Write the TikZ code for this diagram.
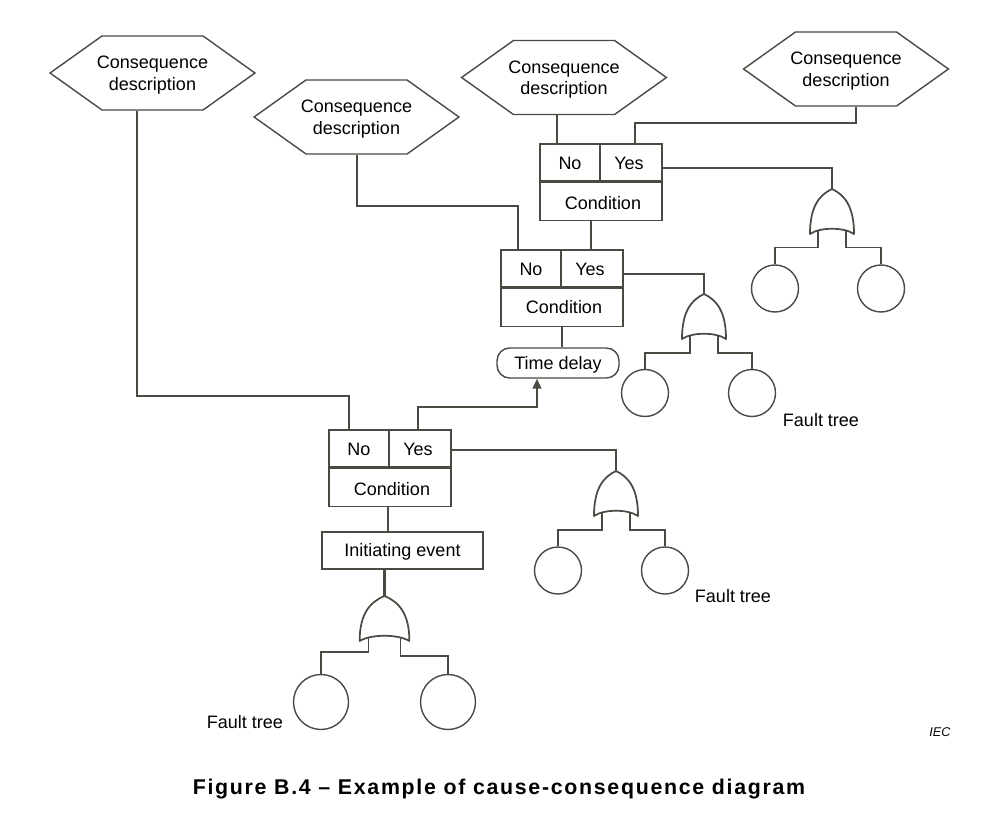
\documentclass[tikz,border=0pt]{standalone}
\usepackage{fontspec}
\setmainfont{Liberation Sans}
\newfontfamily\titlefont[LetterSpace=8]{Liberation Sans}
\usetikzlibrary{shapes.symbols,arrows.meta}
\definecolor{ln}{HTML}{4A4A42}
\newcommand{\hextext}{\rule{0pt}{12.5pt}Consequence\\description}
\tikzset{
  wire/.style={draw=ln,line width=1.05pt},
  heavy/.style={draw=ln,line width=1.6pt},
  divider/.style={draw=ln,line width=2pt},
  lbl/.style={text=black,font=\fontsize{13.5}{16.2}\selectfont,inner sep=0pt},
  boxed/.style={lbl,draw=ln,line width=1.05pt,fill=white,text height=9.7pt,text depth=0pt,
    minimum width=#1*.75pt},
  hexa/.style={lbl,inner xsep=-3.75pt,draw=ln,line width=1.05pt,align=center,signal,signal to=east and west,
    signal pointer angle=71,minimum width=195*.75pt,minimum height=74*.75pt},
  ball/.style={circle,draw=ln,line width=1.05pt,inner sep=0pt,minimum size=#1*.75pt},
  orgate/.pic={
    \draw[draw=ln,line width=1.3pt,line join=round] (0,0) .. controls (13,6) and (22,18) .. (22,45)
      .. controls (12,38) and (-12,38) .. (-22,45)
      .. controls (-22,18) and (-13,6) .. (0,0) -- cycle;
    \coordinate (-apex) at (0,0);
    \coordinate (-legl) at (-14,40.5);
    \coordinate (-legr) at (14,40.5);
  }
}
\begin{document}
\begin{tikzpicture}[x=.75pt,y=-.75pt]
\useasboundingbox (0,0) rectangle (992,831);
% consequence hexagons
\node[hexa] (h1) at (152.5,73) {\hextext};
\node[hexa] (h2) at (356.5,117) {\hextext};
\node[hexa] (h3) at (564,77.5) {\hextext};
\node[hexa] (h4) at (846,69) {\hextext};
% condition boxes
\foreach \n/\x/\y/\th in {1/540/144/11.95pt,2/501/250/9.7pt,3/329/430/11.95pt}{
  \node[boxed=60,minimum height=38*.75pt] (b\n no) at (\x+30,\y+19) {No};
  \node[boxed=62,minimum height=38*.75pt] (b\n yes) at (\x+91,\y+19) {Yes\kern3pt};
  \node[boxed=122,minimum height=38.5*.75pt,text height=\th] (b\n cond) at (\x+61,\y+57.5) {\kern3pt Condition};
  \draw[divider] (b\n cond.north west) -- (b\n cond.north east);
}
\node[boxed=161,minimum height=37*.75pt] (init) at (402.5,550.5) {Initiating event};
\node[boxed=122,minimum height=30*.75pt,rounded corners=9.5pt] (delay) at (558,363) {Time delay};
% gates
\pic (g1) at (832,189) {orgate};
\pic (g2) at (704,294) {orgate};
\pic (g3) at (616,471) {orgate};
\pic[xscale=1.13] (g4) at (384.5,596) {orgate};
% primary events
\node[ball=47] (c1l) at (775,288.5) {};
\node[ball=47] (c1r) at (881,288.5) {};
\node[ball=47] (c2l) at (645,393) {};
\node[ball=47] (c2r) at (752,393) {};
\node[ball=47] (c3l) at (558,570.5) {};
\node[ball=47] (c3r) at (665,570.5) {};
\node[ball=55] (c4l) at (321,702) {};
\node[ball=55] (c4r) at (448,702) {};
% connectors: hexagons to boxes
\draw[wire] (h1.south -| 137,0) -- (137,396) -| (b3no.north -| 349,0);
\draw[wire] (h2.south -| 357,0) -- (357,206) -| (b2no.north -| 518,0);
\draw[wire] (h3.south -| 557,0) -- (b1no.north -| 557,0);
\draw[wire] (h4.south -| 856,0) -- (856,123) -| (b1yes.north -| 635,0);
\draw[heavy] (b1cond.south -| 591,0) -- (b2yes.north -| 591,0);
\draw[wire] (b2cond.south -| 562,0) -- (delay.north -| 562,0);
\draw[heavy,-{Triangle[length=7.5pt,width=6.5pt]}] (b3yes.north -| 418,0) -- (418,407) -| (delay.south -| 537,0);
\draw[wire] (b3cond.south -| 388,0) -- (init.north -| 388,0);
\draw[heavy] (init.south -| 384.5,0) -- (g4-apex);
% connectors: Yes outputs to gates
\draw[wire] (b1yes.east |- 0,168) -| (g1-apex);
\draw[wire] (b2yes.east |- 0,274) -| (g2-apex);
\draw[wire] (b3yes.east |- 0,450) -| (g3-apex);
% connectors: gates to primary events
\draw[wire] (g1-legl) -- ++(0,18) -| (c1l.north);
\draw[wire] (g1-legr) -- ++(0,18) -| (c1r.north);
\draw[wire] (g2-legl) -- ++(0,18.5) -| (c2l.north);
\draw[wire] (g2-legr) -- ++(0,18.5) -| (c2r.north);
\draw[wire] (g3-legl) -- ++(0,18.5) -| (c3l.north);
\draw[wire] (g3-legr) -- ++(0,18.5) -| (c3r.north);
\draw[wire] (g4-legl) -- ++(0,15.5) -| (c4l.north);
\draw[wire] (g4-legr) -- ++(0,19.5) -| (c4r.north);
% labels
\node[lbl] (ft1) at (821,420) {Fault tree};
\node[lbl] (ft2) at (733,596) {Fault tree};
\node[lbl] (ft3) at (245,722) {Fault tree};
\node[text=black,inner sep=0pt,font=\fontsize{9.5}{11}\selectfont\itshape] (iec) at (940,732) {IEC};
\node[text=black,inner sep=0pt,font=\fontsize{16}{18}\titlefont\bfseries] (title) at (499,789.5) {Figure B.4 – Example of cause-consequence diagram};
\end{tikzpicture}
\end{document}
